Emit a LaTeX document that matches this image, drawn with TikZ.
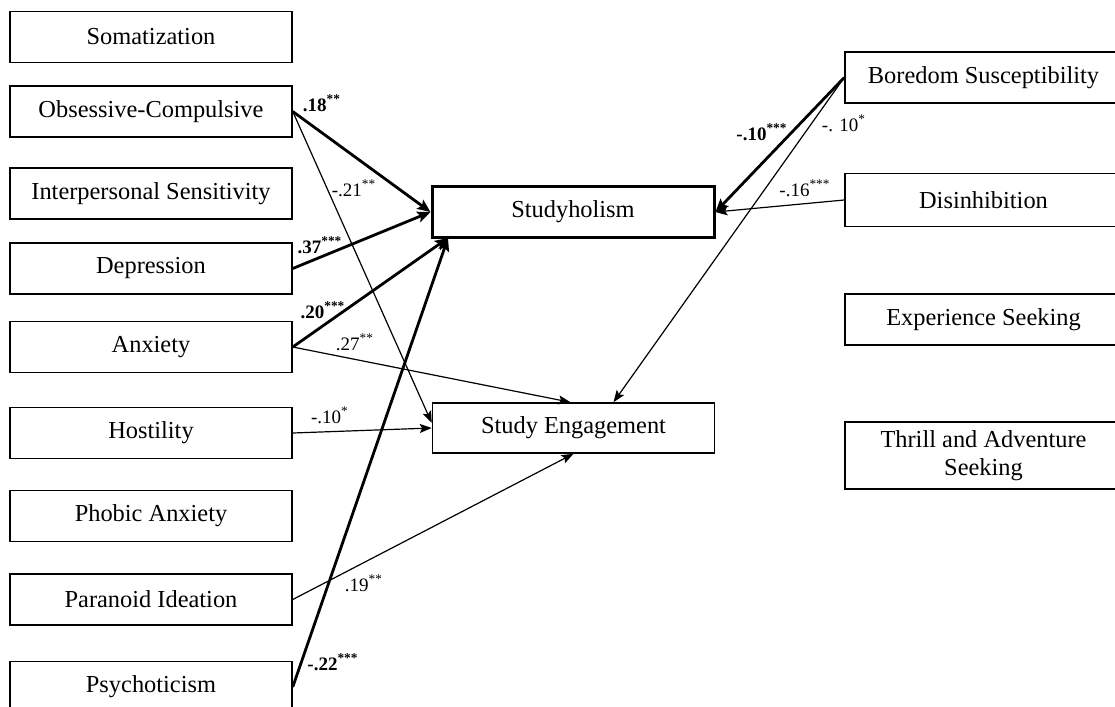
\documentclass[tikz,border=0pt]{standalone}
\usepackage{fontspec}
\setmainfont{Liberation Serif}
\usetikzlibrary{arrows.meta,calc}
\tikzset{
  box/.style={draw, line width=0.75pt, inner sep=0pt, minimum width=141pt, minimum height=25.5pt,
    font=\fontsize{12.2}{14}\selectfont, align=center},
  rbox/.style={box, minimum width=138.5pt},
  mainbox/.style={box, line width=1.5pt},
  thin/.style={line width=0.6pt, -{Stealth[length=6pt,width=4.5pt,inset=1.2pt]}},
  thick/.style={line width=1.4pt, -{Stealth[length=6.5pt,width=5.5pt,inset=1.2pt]}},
  lab/.style={inner sep=0pt, font=\fontsize{9.5}{11}\selectfont},
  blab/.style={lab, font=\fontsize{9.5}{11}\selectfont\bfseries}
}
\newcommand{\sst}[1]{\textsuperscript{#1}}
\begin{document}
\begin{tikzpicture}[x=0.5pt,y=-0.5pt]
\useasboundingbox (0,0) rectangle (1115,707);
\clip (0,0) rectangle (1115,707);
\fill[white] (0,0) rectangle (1115,707);
% left column
\node[box] (som) at (151,37) {Somatization};
\node[box] (oc)  at (151,111.5) {Obsessive-Compulsive};
\node[box] (is)  at (151,193.5) {Interpersonal Sensitivity};
\node[box] (dep) at (151,268.5) {Depression};
\node[box] (anx) at (151,347) {Anxiety};
\node[box] (hos) at (151,433) {Hostility};
\node[box] (pho) at (151,516) {Phobic Anxiety};
\node[box] (par) at (151,599.5) {Paranoid Ideation};
\node[box] (psy) at (151,687) {Psychoticism};
% centre
\node[mainbox] (sh) at (573,212) {Studyholism};
\node[box, minimum height=25pt] (se) at (573.5,428) {Study Engagement};
% right column
\node[rbox] (bor) at (983.5,77.5) {Boredom Susceptibility};
\node[rbox, minimum height=26.5pt] (dis) at (983.5,200) {Disinhibition};
\node[rbox] (exp) at (983.5,319.5) {Experience Seeking};
\node[rbox, minimum height=33.5pt] (thr) at (983.5,455.5) {Thrill and Adventure\\Seeking};
% target points
\coordinate (shbl) at (448,238);
\coordinate (setop) at ($(se.north)+(-3,0)$);
\coordinate (setopr) at ($(se.north)+(40,0)$);
\coordinate (sewest) at ($(se.west)+(0,-5)$);
% arrows
\draw[thick] (oc.east) -- (sh.west);
\draw[thin] (oc.east) -- (sewest);
\draw[thick] (dep.east) -- (sh.west);
\draw[thick] (anx.east) -- (shbl);
\draw[thick] (psy.east) -- (shbl);
\draw[thin] (anx.east) -- (setop);
\draw[thin] (hos.east) -- (se.west);
\draw[thin] (par.east) -- (se.south);
\draw[thick] (bor.west) -- (sh.east);
\draw[thin] (bor.west) -- (setopr);
\draw[thin] (dis.west) -- (sh.east);
% labels
\node[blab] (l1) at (322,103) {.18\sst{**}};
\node[lab]  (l2) at (354,188) {-.21\sst{**}};
\node[blab] (l3) at (320,245) {.37\sst{***}};
\node[blab] (l4) at (323,310) {.20\sst{***}};
\node[lab]  (l5) at (355,342) {.27\sst{**}};
\node[lab]  (l6) at (330,415) {-.10\sst{*}};
\node[lab]  (l7) at (364,583) {.19\sst{**}};
\node[blab] (l8) at (333,662) {-.22\sst{***}};
\node[blab] (l9) at (762,132) {-.10\sst{***}};
\node[lab]  (l10) at (844,123) {-. 10\sst{*}};
\node[lab]  (l11) at (805,188) {-.16\sst{***}};
\end{tikzpicture}
\end{document}
